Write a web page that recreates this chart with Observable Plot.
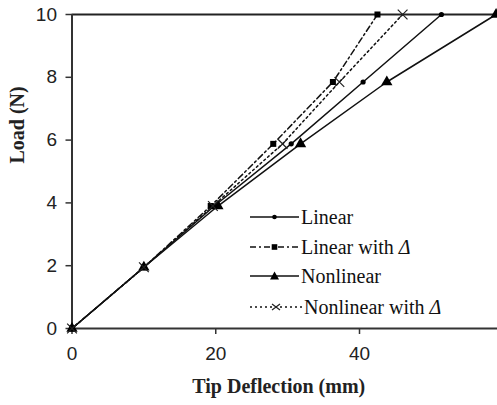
<!DOCTYPE html>
<html><head><meta charset="utf-8">
<script src="https://cdn.jsdelivr.net/npm/d3@7"></script>
<script src="https://cdn.jsdelivr.net/npm/@observablehq/plot@0.6"></script>
<style>
body{margin:0;background:#fff}
#wrap{position:relative;width:497px;height:405px;overflow:hidden}
#legend{position:absolute;left:0;top:0;font-family:"Liberation Serif","Times New Roman",serif;font-size:20px;color:#111}
.row{position:absolute;left:248px;height:30px;display:flex;align-items:center;white-space:nowrap}
.row svg{display:block}
</style>
</head><body><div id="wrap"></div>
<script>
const loads = [0, 1.95, 3.9, 5.88, 7.85, 10];
const linear = [0, 10, 19.8, 30.5, 40.5, 51.4];
const linearDelta = [0, 10, 19.3, 28.0, 36.3, 42.5];
const nonlinear = [0, 10, 20.3, 31.8, 43.8, 59.0];
const nonlinearDelta = [0, 10, 19.6, 29.3, 37.2, 46.0];
const seriesNames = ["Linear", "Linear with Δ", "Nonlinear", "Nonlinear with Δ"];
const xTicks = [0, 20, 40];
const yTicks = [0, 2, 4, 6, 8, 10];

const seriesX = [linear, linearDelta, nonlinear, nonlinearDelta];
const styles = [
  {dash: null, symbol: "circle", r: 2.6},
  {dash: "6,3,2,3", symbol: "square", r: 3.4},
  {dash: null, symbol: "triangle", r: 4.2},
  {dash: "2,3", symbol: "times", r: 4.5}
];
const data = [];
seriesNames.forEach((s, i) => seriesX[i].forEach((x, j) => data.push({series: s, x, y: loads[j]})));

const marks = [
  Plot.ruleY([10], {stroke: "#222", strokeWidth: 2}),
  Plot.ruleX([0], {stroke: "#333", strokeWidth: 2}),
  Plot.ruleY([0], {stroke: "#333", strokeWidth: 2}),
  Plot.axisX(xTicks, {tickSize: 6, tickPadding: 12, fontSize: 19, fontFamily: "Liberation Sans, Arial, sans-serif", stroke: "#333", strokeWidth: 1.5, label: null, color: "#222"}),
  Plot.axisY(yTicks, {tickSize: 6, tickPadding: 9, fontSize: 19, fontFamily: "Liberation Sans, Arial, sans-serif", stroke: "#333", strokeWidth: 1.5, label: null}),
];
seriesNames.forEach((s, i) => {
  const d = data.filter(r => r.series === s);
  marks.push(Plot.line(d, {x: "x", y: "y", stroke: "#111", strokeWidth: 1.5, strokeDasharray: styles[i].dash}));
  if (styles[i].symbol === "times") {
    marks.push(Plot.dot(d, {x: "x", y: "y", symbol: "times", r: styles[i].r, stroke: "#222", strokeWidth: 1.2}));
  } else {
    marks.push(Plot.dot(d, {x: "x", y: "y", symbol: styles[i].symbol, r: styles[i].r, fill: "#000", stroke: "none"}));
  }
});
marks.push(Plot.text(["Tip Deflection (mm)"], {frameAnchor: "bottom", dy: 64, fontSize: 20, fontWeight: "bold", fontFamily: "Liberation Serif, Times New Roman, serif", dx: -6}));
marks.push(Plot.text(["Load (N)"], {frameAnchor: "left", dx: -54, dy: -8, rotate: -90, fontSize: 20, fontWeight: "bold", fontFamily: "Liberation Serif, Times New Roman, serif"}));

const chart = Plot.plot({
  width: 497, height: 405,
  marginLeft: 71.5, marginRight: 0, marginTop: 14, marginBottom: 77,
  x: {domain: [0, 59.2]},
  y: {domain: [0, 10]},
  style: {background: "#fff", color: "#222"},
  marks
});
const wrap = document.getElementById("wrap");
wrap.appendChild(chart);

// legend
const legend = document.createElement("div");
legend.id = "legend";
const rowsY = [202, 232, 261, 292];
const sym = (name, cx, cy) => {
  if (name === "circle") return `<circle cx="${cx}" cy="${cy}" r="2.3" fill="#000"/>`;
  if (name === "square") return `<rect x="${cx-2.8}" y="${cy-2.8}" width="5.6" height="5.6" fill="#000"/>`;
  if (name === "triangle") return `<path d="M${cx},${cy-4.5}L${cx+4.5},${cy+3.5}L${cx-4.5},${cy+3.5}Z" fill="#000"/>`;
  return `<path d="M${cx-4},${cy-3}L${cx+4},${cy+3}M${cx-4},${cy+3}L${cx+4},${cy-3}" stroke="#222" stroke-width="1.2"/>`;
};
seriesNames.forEach((s, i) => {
  const row = document.createElement("div");
  row.className = "row";
  row.style.top = rowsY[i] + "px";
  const w = i === 3 ? 56 : 53;
  const label = s.replace("Δ", "<i>Δ</i>");
  row.innerHTML = `<svg width="${w}" height="30"><line x1="2" x2="${w - 2}" y1="15" y2="15" stroke="#111" stroke-width="1.5" ${styles[i].dash ? `stroke-dasharray="${styles[i].dash}"` : ""}/>${sym(styles[i].symbol, w / 2, 15)}</svg><span>${label}</span>`;
  legend.appendChild(row);
});
wrap.appendChild(legend);
</script>
</body></html>
